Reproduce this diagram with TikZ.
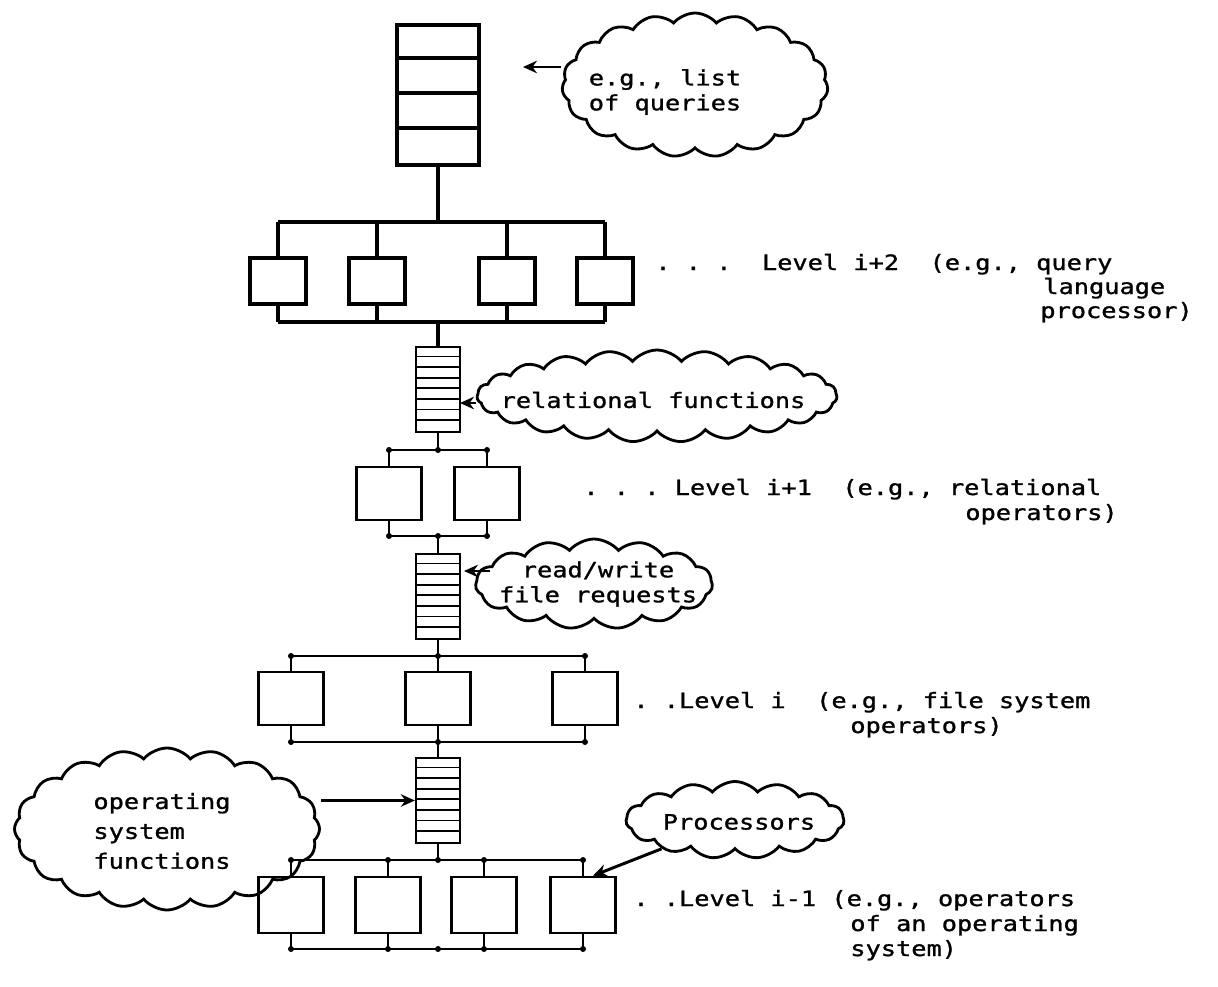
\documentclass[tikz,border=0pt]{standalone}
\usepackage{fontspec}
\setmonofont[FakeStretch=1.2,FakeBold=1.2]{DejaVu Sans Mono}
\usetikzlibrary{shapes.symbols,arrows.meta}

\begin{document}
\begin{tikzpicture}[x=0.2mm, y=-0.2mm,
    proc/.style={draw, line width=1.5pt, minimum width=13mm, minimum height=10.6mm, inner sep=0pt},
    bus/.style={line width=1.6pt},
    queue/.style={draw, line width=1.3pt, minimum width=8.8mm, minimum height=17mm, inner sep=0pt},
    bubble/.style={draw, cloud, cloud puffs=19, cloud puff arc=100, cloud ignores aspect, line width=1.6pt, inner sep=0pt},
    note/.style={font=\ttfamily\fontsize{12}{14.2}\selectfont, align=left, inner sep=0pt},
    arr/.style={-{Stealth[length=2.8mm,width=2.5mm]}, line width=1.7pt},
    ]
    \useasboundingbox (0,0) rectangle (1218,987);

    % list of queries
    \node[draw, line width=2.2pt, minimum width=16.4mm, minimum height=28mm, inner sep=0pt] (q0) at (438,95) {};
    \foreach \k in {1,2,3}{
        \draw[line width=2.2pt] ([yshift=-\k*7mm]q0.north west) -- ([yshift=-\k*7mm]q0.north east);
    }

    % level i+2
    \coordinate (uTop) at (438,222);
    \coordinate (uBot) at (438,322);
    \foreach \n/\x in {u1/278,u2/377,u3/507,u4/605}{
        \node[proc, line width=2.3pt, minimum width=11.2mm, minimum height=9.2mm] (\n) at (\x,281) {};
        \draw[line width=2.2pt] (\n.north) -- (\n.north |- uTop);
        \draw[line width=2.2pt] (\n.south) -- (\n.south |- uBot);
    }
    \draw[line width=2.2pt] (u1.north |- uTop) -- (u4.north |- uTop);
    \draw[line width=2.2pt] (u1.south |- uBot) -- (u4.south |- uBot);
    \draw[line width=2.2pt] (q0.south) -- (uTop);

    % queues between the levels
    \node[queue] (q1) at (438,389.5) {};
    \node[queue] (q2) at (438,596.5) {};
    \node[queue] (q3) at (438,800.5) {};
    \foreach \q in {q1,q2,q3}{
        \foreach \k in {1,...,7}{
            \draw[line width=1pt] ([yshift=-\k*2.125mm]\q.north west) -- ([yshift=-\k*2.125mm]\q.north east);
        }
    }
    \draw[line width=1.8pt] (uBot) -- (q1.north);

    % level i+1
    \coordinate (vTop) at (438,450);
    \coordinate (vBot) at (438,536);
    \foreach \n/\x in {v1/389,v2/487}{
        \node[proc] (\n) at (\x,493.5) {};
        \draw[bus] (\n.north) -- (\n.north |- vTop);
        \draw[bus] (\n.south) -- (\n.south |- vBot);
        \fill (\n.north |- vTop) circle[radius=0.6mm];
        \fill (\n.south |- vBot) circle[radius=0.6mm];
    }
    \draw[bus] (v1.north |- vTop) -- (v2.north |- vTop);
    \draw[bus] (v1.south |- vBot) -- (v2.south |- vBot);
    \fill (vTop) circle[radius=0.6mm];
    \fill (vBot) circle[radius=0.6mm];
    \draw[bus] (q1.south) -- (vTop);
    \draw[bus] (vBot) -- (q2.north);

    % level i
    \coordinate (wTop) at (438,656);
    \coordinate (wBot) at (438,742);
    \foreach \n/\x in {w1/291,w2/438,w3/585}{
        \node[proc] (\n) at (\x,698.5) {};
        \draw[bus] (\n.north) -- (\n.north |- wTop);
        \draw[bus] (\n.south) -- (\n.south |- wBot);
        \fill (\n.north |- wTop) circle[radius=0.6mm];
        \fill (\n.south |- wBot) circle[radius=0.6mm];
    }
    \draw[bus] (w1.north |- wTop) -- (w3.north |- wTop);
    \draw[bus] (w1.south |- wBot) -- (w3.south |- wBot);
    \draw[bus] (q2.south) -- (wTop);
    \draw[bus] (wBot) -- (q3.north);

    % level i-1
    \coordinate (zTop) at (438,860);
    \coordinate (zBot) at (438,949);
    \foreach \n/\x in {z1/291,z2/388,z3/484,z4/583}{
        \node[proc, minimum height=11.2mm] (\n) at (\x,905) {};
        \draw[bus] (\n.north) -- (\n.north |- zTop);
        \draw[bus] (\n.south) -- (\n.south |- zBot);
        \fill (\n.north |- zTop) circle[radius=0.6mm];
        \fill (\n.south |- zBot) circle[radius=0.6mm];
    }
    \draw[bus] (z1.north |- zTop) -- (z4.north |- zTop);
    \draw[bus] (z1.south |- zBot) -- (z4.south |- zBot);
    \fill (zTop) circle[radius=0.6mm];
    \fill (zBot) circle[radius=0.6mm];
    \draw[bus] (q3.south) -- (zTop);

    % clouds
    \node[bubble, minimum width=53.2mm, minimum height=28.8mm] (cq) at (695,85) {};
    \node[bubble, cloud puffs=23, minimum width=72mm, minimum height=18.4mm] (crel) at (657,396) {};
    \node[bubble, cloud puffs=15, minimum width=47.4mm, minimum height=18mm] (cfile) at (594,584) {};
    \node[bubble, cloud puffs=20, minimum width=61mm, minimum height=32.4mm] (cos) at (167,829) {};
    \node[bubble, cloud puffs=15, minimum width=43.6mm, minimum height=15.4mm] (cproc) at (735,820) {};

    \node[note] (tq) at (665,92) {e.g., list\\of queries};
    \node[note] (trel) at (653,400) {relational functions};
    \node[note, align=center] (tfile) at (598,584) {read/write\\file requests};
    \node[note, font=\ttfamily\fontsize{12}{17}\selectfont] (tos) at (162,831) {operating\\system\\functions};
    \node[note] (tproc) at (739,822) {Processors};

    % arrows
    \coordinate (tipq) at (523,67);
    \coordinate (tiprel) at (460,403);
    \coordinate (tailfile) at (490,571);
    \coordinate (tipfile) at (464,571);
    \draw[arr] (tipq -| cq.west) -- (tipq);
    \draw[arr] (tiprel -| crel.west) -- (tiprel);
    \draw[arr] (tailfile) -- (tipfile);
    \draw[arr] (cos.east |- q3.west) -- (q3.west);
    \draw[arr] (cproc) -- ([xshift=2mm]z4.north);

    % level labels
    \node[note, anchor=base west] (lu) at (655,270) {. . .\ \ Level i+2\ \ (e.g., query};
    \node[note, anchor=base west] (lu2) at (1043,294) {language};
    \node[note, anchor=base west] (lu3) at (1040,318) {processor)};
    \node[note, anchor=base west] (lv) at (583,495) {. . . Level i+1\ \ (e.g., relational};
    \node[note, anchor=base west] (lv2) at (965,520) {operators)};
    \node[note, anchor=base west] (lw) at (633,708) {. .Level i\ \ (e.g., file system};
    \node[note, anchor=base west] (lw2) at (850,733) {operators)};
    \node[note, anchor=base west] (lz) at (633,906) {. .Level i-1 (e.g., operators};
    \node[note, anchor=base west] (lz2) at (850,931) {of an operating};
    \node[note, anchor=base west] (lz3) at (850,956) {system)};
\end{tikzpicture}
\end{document}
